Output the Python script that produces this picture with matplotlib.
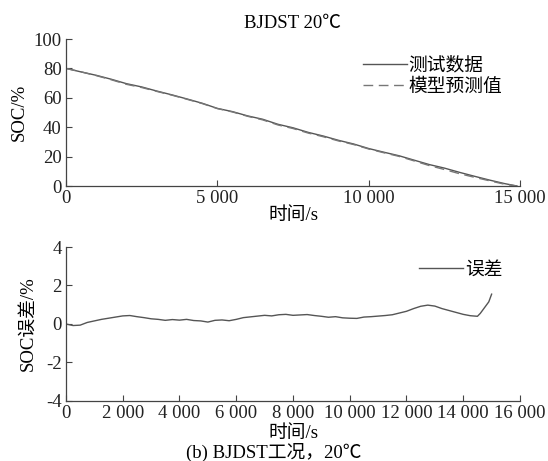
import matplotlib
matplotlib.use('Agg')
import matplotlib.pyplot as plt

plt.rcParams['font.family'] = ['Liberation Serif', 'Noto Sans CJK SC']
plt.rcParams['axes.unicode_minus'] = False

# SOC curves (s, %)
t_soc = [0, 500, 1000, 1500, 2000, 2500, 3000, 3500, 4000, 4500,
         5000, 5500, 6000, 6500, 7000, 7500, 8000, 8500, 9000, 9500,
         10000, 10500, 11000, 11500, 12000, 12500, 13000, 13500, 14000, 14500, 14900]
soc_test = [80.0, 77.6, 75.3, 72.6, 69.6, 67.4, 64.6, 62.0, 59.2, 56.3,
            52.8, 50.6, 47.7, 45.4, 42.0, 39.6, 36.5, 34.0, 31.1, 28.6,
            25.5, 23.0, 20.6, 17.6, 14.6, 12.2, 9.3, 6.6, 4.0, 1.6, 0.0]
soc_model = [80.0, 77.65, 75.1, 72.25, 69.16, 67.0, 64.34, 61.8, 58.98, 56.1,
             52.67, 50.38, 47.43, 44.98, 41.55, 39.12, 36.03, 33.52, 30.68, 28.24,
             25.19, 22.63, 20.18, 17.1, 13.92, 11.25, 8.37, 5.92, 3.51, 1.18, 0.0]

# SOC error (s, %)
t_err = [0, 250, 500, 750, 1000, 1250, 1500, 1750, 2000, 2250,
         2500, 2750, 3000, 3250, 3500, 3750, 4000, 4250, 4500, 4750,
         5000, 5250, 5500, 5750, 6000, 6250, 6500, 6750, 7000, 7250,
         7500, 7750, 8000, 8250, 8500, 8750, 9000, 9250, 9500, 9750,
         10000, 10250, 10500, 10750, 11000, 11250, 11500, 11750, 12000, 12250,
         12500, 12750, 13000, 13250, 13500, 13750, 14000, 14250, 14500, 14600,
         14700, 14800, 14900, 15000]
err = [0.00, -0.08, -0.06, 0.08, 0.16, 0.24, 0.30, 0.36, 0.42, 0.44,
       0.38, 0.33, 0.27, 0.24, 0.19, 0.23, 0.20, 0.24, 0.18, 0.16,
       0.10, 0.19, 0.21, 0.17, 0.24, 0.33, 0.37, 0.41, 0.45, 0.42,
       0.48, 0.50, 0.45, 0.47, 0.49, 0.44, 0.40, 0.35, 0.38, 0.32,
       0.30, 0.29, 0.36, 0.38, 0.41, 0.44, 0.48, 0.57, 0.66, 0.80,
       0.92, 0.98, 0.93, 0.80, 0.70, 0.60, 0.50, 0.43, 0.40, 0.55,
       0.75, 0.95, 1.15, 1.55]

top_xticks = [0, 5000, 10000, 15000]
top_xlabels = ['0', '5 000', '10 000', '15 000']
bot_xticks = [0, 2000, 4000, 6000, 8000, 10000, 12000, 14000, 16000]
bot_xlabels = ['0', '2 000', '4 000', '6 000', '8 000', '10 000', '12 000', '14 000', '16 000']

line_c = '#555555'
fs = 13.5

fig = plt.figure(figsize=(5.48, 4.61), dpi=100)
ax1 = fig.add_axes([0.1204, 0.5965, 0.8285, 0.3189])
ax2 = fig.add_axes([0.1204, 0.1302, 0.8285, 0.3340])

for ax in (ax1, ax2):
    ax.spines['top'].set_visible(False)
    ax.spines['right'].set_visible(False)
    for s in ('left', 'bottom'):
        ax.spines[s].set_color('#444444')
        ax.spines[s].set_linewidth(0.9)
    ax.tick_params(direction='in', length=4, width=0.8, color='#444444',
                   labelsize=fs, pad=3, labelcolor='#222222')

ax1.plot(t_soc, soc_test, color=line_c, lw=1.0, label='测试数据')
ax1.plot(t_soc, soc_model, color='#777777', lw=1.0, ls=(0, (7, 4)), label='模型预测值')
ax1.set_xlim(0, 15000)
ax1.set_ylim(0, 100)
ax1.set_xticks(top_xticks)
ax1.set_xticklabels(top_xlabels)
ax1.set_yticks([0, 20, 40, 60, 80, 100])
ax1.set_xlabel('时间/s', fontsize=fs, labelpad=0)
ax1.set_ylabel('SOC/%', fontsize=fs, labelpad=4)
ax1.set_title('BJDST 20℃', fontsize=fs, pad=8)
ax1.legend(loc='upper left', bbox_to_anchor=(0.655, 0.875), frameon=False,
           fontsize=fs, handlelength=2.35, handletextpad=0.05,
           borderaxespad=0, borderpad=0, labelspacing=0.2)

ax2.plot(t_err, err, color=line_c, lw=1.0, label='误差')
ax2.set_xlim(0, 16000)
ax2.set_ylim(-4, 4)
ax2.set_xticks(bot_xticks)
ax2.set_xticklabels(bot_xlabels)
ax2.set_yticks([-4, -2, 0, 2, 4])
ax2.set_xlabel('时间/s', fontsize=fs, labelpad=2)
ax2.set_ylabel('SOC误差/%', fontsize=fs, labelpad=7)
ax2.legend(loc='upper left', bbox_to_anchor=(0.777, 0.905), frameon=False,
           fontsize=fs, handlelength=2.35, handletextpad=0.15,
           borderaxespad=0, borderpad=0)

fig.text(0.5, 1 - 452 / 461, '(b) BJDST工况，20℃', ha='center', va='center', fontsize=fs)

fig.savefig('out.png', dpi=100, facecolor='white')
